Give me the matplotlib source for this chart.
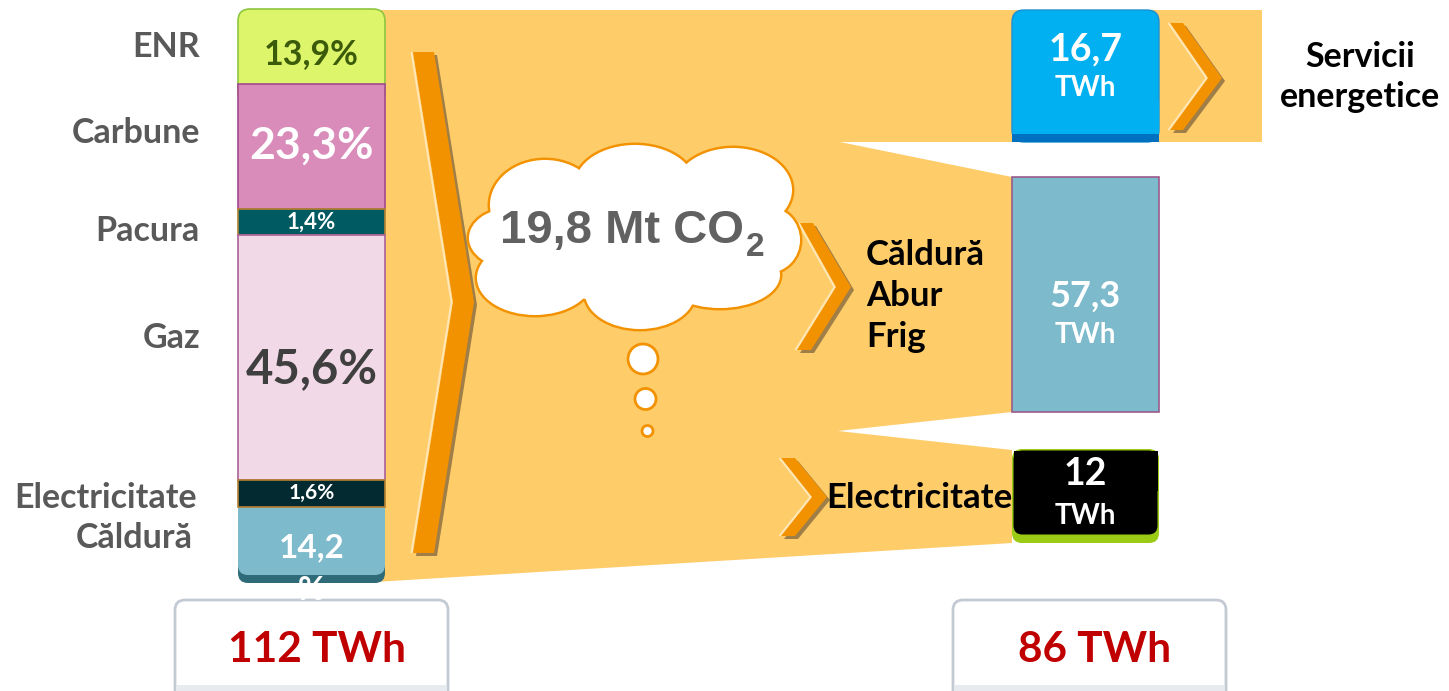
import numpy as np
import matplotlib.pyplot as plt
from matplotlib.patches import Polygon, FancyBboxPatch, Rectangle, Ellipse, Circle

# data
sources = ['ENR', 'Carbune', 'Pacura', 'Gaz', 'Electricitate', 'Căldură']
shares = [13.9, 23.3, 1.4, 45.6, 1.6, 14.2]
uses = ['Servicii\nenergetice', 'Căldură\nAbur\nFrig', 'Electricitate']
use_twh = [16.7, 57.3, 12]
total_in = 112
total_out = 86
co2_mt = 19.8

FONT = ['Lato', 'DejaVu Sans']
ORANGE_BG = '#FECC69'
ORANGE = '#F39200'


def fmt(v):
    return ('%g' % v).replace('.', ',')


fig = plt.figure(figsize=(14.49, 6.91), dpi=100)
ax = fig.add_axes([0, 0, 1, 1])
ax.set_xlim(0, 1449)
ax.set_ylim(691, 0)
ax.axis('off')

# orange funnel behind everything
funnel = [(375, 10), (1262, 10), (1262, 142), (840, 142), (1012, 177), (1012, 412),
          (838, 431), (1012, 450), (1012, 543), (375, 582)]
ax.add_patch(Polygon(funnel, closed=True, fc=ORANGE_BG, ec='none', zorder=1))

# ---- left stacked bar ----
seg_fc = ['#DDF56A', '#D98BB9', '#005A62', '#F2D9E7', '#032A30', '#7DBACC']
seg_ec = ['#8DC63F', '#A24A8E', '#B5812F', '#A8629A', '#B5812F', '#2F6A79']
seg_tc = ['#3B5B0B', 'white', 'white', '#3F3F3F', 'white', 'white']
seg_fs = [24.5, 32, 16, 34, 15, 24]
bar_x, bar_w, bar_top, bar_bot = 238, 147, 9, 583

disp = np.maximum(np.array(shares), 5)  # tiny shares get a readable minimum height
k = (bar_bot - bar_top) / disp.sum()
h = disp * k
b = bar_top + np.concatenate([[0], np.cumsum(h)[:-1]])
xc = bar_x + bar_w / 2

# rounded ends
ax.add_patch(FancyBboxPatch((bar_x, b[0]), bar_w, h[0] + 20,
                            boxstyle='round,pad=0,rounding_size=12',
                            fc=seg_fc[0], ec=seg_ec[0], lw=1.2, zorder=2.5))
ax.add_patch(FancyBboxPatch((bar_x, b[5] - 20), bar_w, h[5] + 20,
                            boxstyle='round,pad=0,rounding_size=10',
                            fc='#2F6A79', ec='none', zorder=2.5))
ax.add_patch(FancyBboxPatch((bar_x, b[5] - 20), bar_w, h[5] + 20 - 8,
                            boxstyle='round,pad=0,rounding_size=10',
                            fc=seg_fc[5], ec='none', zorder=2.6))
ax.bar(xc, h[1:5], bottom=b[1:5], width=bar_w, color=seg_fc[1:5],
       edgecolor=seg_ec[1:5], linewidth=1.2, zorder=3)

for i, s in enumerate(shares):
    yc = b[i] + h[i] / 2
    lab = fmt(s) + '%'
    if i == 5:
        ax.text(xc, yc + 3, fmt(s), ha='center', va='center', color='white',
                fontsize=seg_fs[i], fontweight='bold', family=FONT, zorder=5)
        ax.text(xc, yc + 46, '%', ha='center', va='center', color='white',
                fontsize=seg_fs[i], fontweight='bold', family=FONT, zorder=5)
    else:
        off = {0: 8, 3: 11}.get(i, 0)
        ax.text(xc, yc + off, lab, ha='center', va='center', color=seg_tc[i],
                fontsize=seg_fs[i], fontweight='bold', family=FONT, zorder=5)

label_y = [47, 133, 231, 338, 498, 538]
label_x = [200, 200, 200, 200, 197, 193]
for name, lx, ly in zip(sources, label_x, label_y):
    ax.text(lx, ly, name, ha='right', va='center', color='#595959',
            fontsize=24.5, fontweight='bold', family=FONT, zorder=5)


# ---- chevrons ----
def chevron(pts, z=2):
    p = np.array(pts, float)
    ax.add_patch(Polygon(p + (3, 3), closed=True, fc='#A07E48', ec='none', zorder=z))
    ax.add_patch(Polygon(p, closed=True, fc=ORANGE, ec='none', zorder=z + 0.1))
    hl = p[[0, 5, 4]] + (-1.5, 0)
    ax.plot(hl[:, 0], hl[:, 1], color='#FFE6B4', lw=1.5, zorder=z + 0.2,
            solid_capstyle='butt')


chevron([(413, 52), (434, 52), (474, 302), (434, 553), (413, 553), (453, 302)])
chevron([(800, 223), (813, 223), (851, 287), (811, 350), (797, 350), (836, 287)])
chevron([(781, 458), (795, 458), (827, 497), (795, 536), (781, 536), (812, 497)])
chevron([(1170, 23), (1183, 23), (1222, 78), (1183, 130), (1170, 130), (1208, 78)])

# ---- cloud ----
blobs = [(640, 240, 260, 130), (512, 238, 86, 60), (545, 205, 110, 90),
         (635, 185, 120, 80), (733, 190, 118, 84), (768, 240, 64, 66),
         (720, 275, 120, 66), (640, 293, 110, 72), (535, 278, 116, 74)]
for cx, cy, w, hh in blobs:
    ax.add_patch(Ellipse((cx, cy), w, hh, fc='white', ec=ORANGE, lw=3.5, zorder=3))
for cx, cy, w, hh in blobs:
    ax.add_patch(Ellipse((cx, cy), w, hh, fc='white', ec='none', zorder=3.1))
for cx, cy, r in [(643, 359, 15), (645.5, 399, 10.5), (647.5, 431, 5.5)]:
    ax.add_patch(Circle((cx, cy), r, fc='white', ec=ORANGE, lw=2, zorder=3))

t = ax.text(500, 243, fmt(co2_mt) + ' Mt CO', ha='left', va='baseline',
            color='#616161', fontsize=34, fontweight='bold',
            family=['Liberation Sans', 'DejaVu Sans'], zorder=5)
ax.annotate('2', xy=(1, 0), xycoords=t, xytext=(2, -3), textcoords='offset pixels',
            ha='left', va='baseline', color='#616161', fontsize=24, fontweight='bold',
            family=['Liberation Sans', 'DejaVu Sans'], zorder=5)

# ---- right boxes ----
bx, bw = 1012, 147
ax.add_patch(FancyBboxPatch((bx, 10), bw, 132, boxstyle='round,pad=0,rounding_size=12',
                            fc='#00B0F0', ec='#1E8FD0', lw=1, zorder=3))
ax.add_patch(Rectangle((bx + 0.5, 100), bw - 1, 42, fc='#00B0F0', ec='none', zorder=3.1))
ax.add_patch(Rectangle((bx, 134), bw, 8, fc='#0070C0', ec='none', zorder=3.2))

ax.add_patch(Rectangle((bx, 177), bw, 235, fc='#7DBACC', ec='#9A5A8C', lw=1.2, zorder=3))

ax.add_patch(FancyBboxPatch((bx, 449), bw, 94, boxstyle='round,pad=0,rounding_size=10',
                            fc='#9BCB14', ec='none', zorder=3))
ax.add_patch(FancyBboxPatch((bx + 1.5, 450.5), bw - 3, 84, boxstyle='round,pad=0,rounding_size=9',
                            fc='black', ec='none', zorder=3.1))
ax.add_patch(Rectangle((bx + 1.5, 450.5), bw - 3, 40, fc='black', ec='none', zorder=3.2))

val_y = [49, 296, 474]
unit_y = [88, 335, 516]
val_fs = [27, 26, 27]
for v, vy, uy, fs in zip(use_twh, val_y, unit_y, val_fs):
    ax.text(bx + bw / 2, vy, fmt(v), ha='center', va='center', color='white',
            fontsize=fs, fontweight='bold', family=FONT, zorder=5)
    ax.text(bx + bw / 2, uy, 'TWh', ha='center', va='center', color='white',
            fontsize=20, fontweight='bold', family=FONT, zorder=5)

ax.text(1360, 77, uses[0], ha='center', va='center', color='black', fontsize=24.5,
        fontweight='bold', family=FONT, linespacing=1.3, zorder=5)
ax.text(866, 296, uses[1], ha='left', va='center', color='black', fontsize=25,
        fontweight='bold', family=FONT, linespacing=1.35, zorder=5)
ax.text(826, 498, uses[2], ha='left', va='center', color='black', fontsize=25,
        fontweight='bold', family=FONT, zorder=5)

# ---- totals ----
for x0, val in [(175, total_in), (953, total_out)]:
    ax.add_patch(FancyBboxPatch((x0, 600), 273, 110, boxstyle='round,pad=0,rounding_size=10',
                                fc='white', ec='#C3CAD3', lw=2, zorder=3))
    ax.add_patch(Rectangle((x0 + 2, 685), 269, 10, fc='#E7EBEF', ec='none', zorder=3.1))
    ax.text(x0 + 142, 650, f'{val} TWh', ha='center', va='center', color='#C00000',
            fontsize=30.5, fontweight='bold', family=FONT, zorder=5)

fig.savefig('out.png', dpi=100)
